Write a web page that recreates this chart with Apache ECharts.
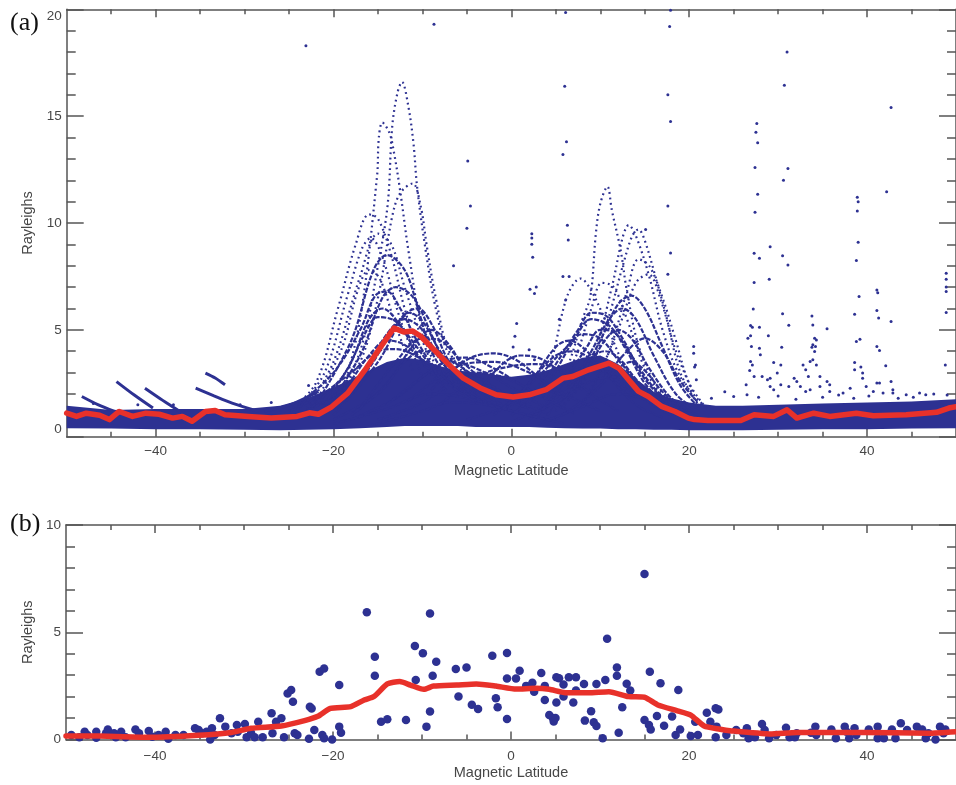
<!DOCTYPE html>
<html>
<head>
<meta charset="utf-8">
<script src="https://cdn.jsdelivr.net/npm/echarts@6.0.0/dist/echarts.min.js"></script>
<style>
  html, body { margin: 0; padding: 0; background: #fff; }
  #chart { width: 956px; height: 785px; }
</style>
</head>
<body>
<div id="chart"></div>
<script>
// colours / fonts
const BLUE = '#2d3192';
const RED = '#e8312a';
const AXIS = '#555555';
const TEXT = '#474747';
const FONT = '"Liberation Sans", Arial, Helvetica, sans-serif';

// x axis ticks
const xMajorTicks = [-40, -20, 0, 20, 40];
const xMinorTicks = [-45, -35, -30, -25, -15, -10, -5, 5, 10, 15, 25, 30, 35, 45];

// (a) dense bottom band of the scatter, lat / upper / lower
const bandLat = [-50, -45, -40, -35, -30, -26, -23, -20, -17, -14, -12, -10, -8, -6, -4, -2, 0, 2, 4, 6, 8, 10, 12, 14, 16, 18, 20, 23, 26, 30, 35, 40, 45, 50];
const bandTop = [1.45, 1.25, 1.3, 1.3, 1.3, 1.45, 1.8, 2.3, 2.9, 3.5, 3.7, 3.6, 3.3, 3.1, 3.0, 2.9, 2.8, 2.9, 3.1, 3.4, 3.7, 3.8, 3.4, 2.7, 2.1, 1.8, 1.6, 1.45, 1.45, 1.5, 1.55, 1.6, 1.65, 1.75];
const bandBottom = [0.4, 0.38, 0.35, 0.35, 0.32, 0.3, 0.32, 0.35, 0.4, 0.45, 0.5, 0.5, 0.5, 0.5, 0.45, 0.45, 0.45, 0.45, 0.42, 0.4, 0.38, 0.38, 0.35, 0.35, 0.33, 0.32, 0.3, 0.3, 0.3, 0.32, 0.35, 0.35, 0.38, 0.4];

// (a) tall passes (sparse, dotted look)
const tallArcs = [
  [[-20,1.5],[-17,4],[-15,8],[-13.9,10.9],[-13.4,14.5],[-12.8,16.1],[-12.3,16.6],[-11.6,15.5],[-11,13.7],[-10.6,11.7],[-9.7,8.9],[-8.5,6],[-7,3.8],[-4,2.2]],
  [[-19,2],[-17,5.5],[-15.1,12.2],[-14.9,14],[-14.5,14.7],[-13.7,14.2],[-13.2,13.3],[-12.5,11.5],[-11.5,8.5],[-10,5],[-8,3],[-5,2]],
  [[-20,1.8],[-17,3.5],[-15,6.5],[-13.4,10.3],[-12.5,11.4],[-11.1,11.85],[-10.2,10.8],[-9.5,8.9],[-8.5,6.5],[-7,4],[-4,2.3]],
  [[-25,1.2],[-22,2.5],[-19.5,6],[-17.5,9],[-16,10.4],[-15,10.2],[-13.5,8.5],[-12,6],[-10,3.5],[-7,2]],
  [[-23,1.3],[-20,3.5],[-17,7.5],[-15,9.5],[-13.5,9],[-12,7],[-10,4.5],[-8,2.5]],
  [[-24,1.3],[-21,3],[-18.5,6.5],[-16.8,8.8],[-15.8,9.3],[-14.5,8.4],[-12.5,5.5],[-10,2.8]],
  [[-22,1.6],[-19,4.2],[-17.3,6.8],[-16,7.8],[-14.8,7.4],[-13,5.2],[-11,3]],
  [[3,1.3],[6,3],[8,5.5],[8.9,6.6],[9.5,9.5],[10,10.9],[10.8,11.7],[11.3,10.6],[12.3,8.7],[13,6.8],[14.5,4],[17,2],[20,1.2]],
  [[5,1.2],[8,2.5],[10.5,5],[12.6,8.1],[13.6,9.4],[14.3,9.7],[14.9,9.3],[16.2,7.5],[17.5,5.5],[19,3],[21,1.5]],
  [[6,1.5],[9,3.5],[11.3,7],[12.5,9.3],[13.2,9.9],[14,9.4],[15.5,7.5],[17,5],[19,2.8],[22,1.3]],
  [[8,1.5],[11,4],[13,6.8],[14.3,8.3],[15.5,8],[17,6.5],[18.5,4.5],[20,2.5],[22,1.3]],
  [[1,1.5],[4,3],[6.3,6.6],[7.8,7.4],[8.9,6.9],[10.5,5.5],[12.5,3.5],[15,2],[18,1.2]],
  [[4,1.4],[7,3.5],[9,6],[10.2,7.2],[11.5,7],[13,5.5],[15,3.2],[17,1.8]],
  [[9,2],[12,5],[14,7.2],[15.4,7.6],[16.8,6.4],[18.5,4],[20.5,2]]
];

// (a) lower passes (dense)
const lowArcs = [
  [[-22,1.5],[-18,4.5],[-15.5,7.8],[-14,8.5],[-12,7.8],[-10.5,6],[-9,4],[-6,2]],
  [[-21,1.2],[-17,3.8],[-14.5,6.5],[-13,7],[-11,6.5],[-9,4.8],[-7,3],[-4,1.8]],
  [[-20,1],[-15,3.5],[-12,5.7],[-10.5,6],[-9,5.3],[-7,3.5],[-4,2]],
  [[-22,1],[-17,2.8],[-14,4.8],[-12,5.5],[-10,5],[-8,3.6],[-5,2.2],[-2,1.5]],
  [[-18,1],[-14,2.5],[-11,4.3],[-9,5],[-7,4.3],[-5,3],[-2,2],[2,1.3]],
  [[-24,1],[-19,2.2],[-16,3.8],[-14,4.5],[-12,4.3],[-9,3.2],[-5,2],[0,1.2]],
  [[-20,0.8],[-15,2],[-12,3.5],[-10,4],[-7,3.6],[-4,2.8],[0,1.8],[4,1.1]],
  [[-18,0.8],[-13,1.8],[-9,3.1],[-7,3.5],[-4,3.2],[0,2.3],[4,1.3]],
  [[-15,0.8],[-10,1.6],[-6,2.7],[-4,3],[-1,2.8],[3,2],[7,1.1]],
  [[-8,1.5],[-4,2.8],[0,3.3],[3,3.4],[6,3],[9,2],[12,1.2]],
  [[-12,1.5],[-6,3.3],[-2,3.5],[2,3],[5,2.2],[10,1.2]],
  [[-5,0.8],[0,1.5],[5,2.5],[8,3.2],[11,3],[14,2],[18,1]],
  [[0,1],[4,2.5],[7,4.5],[9,5.5],[11,5.2],[13,4],[15,2.5],[18,1.2]],
  [[4,1],[8,2.8],[10.5,4.5],[12,5],[13.5,4.6],[15.5,3.2],[18,1.8],[21,1]],
  [[-2,1],[2,2.5],[5,4.2],[6.5,4.5],[8.5,4],[11,2.8],[14,1.5],[17,0.9]],
  [[2,0.8],[6,2.2],[9,3.7],[10.5,4],[12,3.7],[14,2.7],[17,1.4],[20,0.8]],
  [[5,0.8],[9,2],[12,3.2],[13.5,3.5],[15,3.1],[17,2.1],[20,1]],
  [[0,0.7],[5,1.6],[9,2.6],[12,2.8],[15,2.2],[19,1]],
  [[3,0.6],[8,1.4],[12,2],[16,1.6],[20,0.8]],
  [[-20,0.6],[-14,1.3],[-9,2],[-5,1.8],[0,1.2],[5,0.7]],
  [[-16,0.5],[-10,1.2],[-7,1.6],[-3,1.5],[2,1],[6,0.6]],
  [[-23,1.2],[-19,2.8],[-16.5,4.8],[-15,5.6],[-13,5.4],[-11,4.4],[-8,2.8],[-4,1.6]],
  [[-21,1.5],[-18,3.5],[-16,5.5],[-14.5,6],[-12.5,5.2],[-10,3.5],[-7,2.2]],
  [[-19,1.6],[-16,3.2],[-13,5.2],[-11.5,5.8],[-10,5.4],[-8,4],[-5,2.5],[-1,1.5]],
  [[-17,1.3],[-13,3.5],[-10,4.6],[-8,4.5],[-6,3.7],[-3,2.6],[1,1.6]],
  [[-24,1.5],[-20,3],[-17,5],[-15.3,6.6],[-14,6.8],[-12.5,6],[-10.5,4.4],[-8,2.7]],
  [[-14,1.5],[-10,2.8],[-7,3.6],[-5,3.7],[-2,3.2],[2,2.2],[6,1.3]],
  [[-26,1.0],[-22,1.8],[-18,3],[-15,4],[-13,4.1],[-10,3.6],[-6,2.5]],
  [[2,1.6],[5,3.4],[7.5,5],[9,5.8],[10.5,5.7],[12.5,4.6],[15,2.7],[18,1.4]],
  [[6,1.8],[9,4],[11,5.5],[12.5,6],[14,5.5],[16,3.8],[18.5,2],[21,1.2]],
  [[-1,1.3],[3,2.8],[6,4.1],[8,4.8],[10,4.6],[12,3.6],[15,2.2],[18,1.2]],
  [[1,2],[3,3],[5,3.8],[7,4],[9,3.6],[11,2.8],[14,1.8]],
  [[7,2.2],[10,4.5],[12,6.2],[13.5,6.6],[15,6],[17,4.2],[19,2.4],[21,1.4]],
  [[3,1],[6,2.6],[8.5,4.2],[10,5],[11.5,4.9],[13.5,3.8],[16,2.3],[19,1.2]],
  [[10,2.5],[13,4],[15,4.6],[17,4],[19,2.6],[21,1.6]],
  [[-4,2],[-1,3.4],[1,3.8],[3,3.7],[5,3.2],[8,2.2]],
  [[-9,2.2],[-5,3.6],[-2,3.9],[0.5,3.6],[3,2.8],[6,1.8]]
];

// (a) short streaks on the southern side
const streaks = [
  [[-48.3,1.88],[-46.5,1.5],[-44.6,1.18]],
  [[-44.4,2.58],[-42.4,1.95],[-40.3,1.34]],
  [[-41.2,2.27],[-39.2,1.7],[-37.3,1.18],[-36.6,0.95]],
  [[-35.5,2.27],[-33.5,1.92],[-31.4,1.57],[-28.4,1.18]],
  [[-34.4,2.98],[-33.3,2.75],[-32.2,2.43]],
  [[-27.8,1.2],[-24.8,1.5],[-21.7,2.12]]
];

// (a) isolated points
const outliersA = [
  [-23.1,18.3],[-8.7,19.3],[6.1,19.85],[17.9,19.95],[17.8,19.2],[17.6,16.0],[17.9,14.75],[17.6,10.8],[17.9,8.6],[17.6,7.6],
  [31.0,18.0],[30.7,16.45],[27.6,14.66],[27.5,14.25],[27.7,13.75],[27.4,12.6],[27.7,11.34],[27.4,10.5],[31.1,12.55],[30.6,12.0],
  [42.7,15.4],[42.2,11.46],[38.9,11.2],[39.0,11.0],[38.9,10.56],[-4.9,12.9],[-4.6,10.8],[-5.0,9.75],[2.3,9.5],[2.3,9.3],[2.3,9.0],
  [2.4,8.4],[6.3,9.9],[6.4,9.2],[2.1,6.9],[2.6,6.7],[15.1,9.7],[6.0,16.4],[6.2,13.8],[5.8,13.2],[-6.5,8.0],[0.6,5.3],[0.4,4.7],
  [0.2,4.2],[2.0,4.07],[2.6,3.6],[2.8,7.0],[6.5,7.5],[6.1,6.4],[5.4,5.5],[5.8,7.5],[-22.8,2.4],
  [27.3,8.58],[27.9,8.35],[29.1,8.89],[30.5,8.47],[31.1,8.04],[39.0,9.1],[38.8,8.24],[39.1,6.56],[41.1,6.87],[41.2,6.74],[41.1,5.9],
  [41.3,5.55],[42.7,5.39],[27.3,7.21],[27.2,5.98],[29.0,7.37],[30.5,5.75],[31.2,5.22],[28.9,4.72],[26.9,5.2],[27.1,5.12],[27.9,5.12],
  [26.6,4.61],[26.9,4.72],[27.0,4.22],[27.9,4.14],[28.0,3.83],[26.9,3.52],[27.1,3.36],[26.8,3.1],[27.3,2.82],[28.2,2.82],[29.1,2.74],
  [29.5,3.47],[30.3,3.36],[29.9,2.98],[30.4,4.19],[31.8,2.74],[32.1,2.58],[32.8,3.36],[33.1,3.13],[33.4,2.82],[33.8,5.65],[33.9,5.23],
  [34.1,4.61],[34.3,4.53],[33.9,4.3],[34.2,4.22],[33.8,4.19],[34.1,3.99],[33.9,3.6],[33.6,3.52],[34.3,3.36],[34.7,2.82],[35.5,5.05],
  [35.5,2.58],[35.8,2.43],[38.6,5.73],[38.8,4.45],[39.2,4.56],[38.6,3.47],[38.6,3.13],[39.3,3.26],[39.5,2.98],[39.5,2.74],[41.1,4.22],
  [41.4,4.03],[42.1,3.32],[41.1,2.51],[41.4,2.51],[42.7,2.58],[42.9,2.2],[45.9,2.04],[48.8,3.36],[48.9,7.65],[48.9,7.37],[48.9,7.0],
  [48.9,6.79],[48.9,5.81],[20.5,4.22],[20.5,3.91],[20.7,3.36],[20.6,3.26],[20.8,2.66],[25.0,1.88],[26.4,2.43],[26.5,1.96],[28.8,2.66],
  [29.1,2.35],[29.5,2.2],[30.3,2.43],[31.2,2.35],[32.5,2.35],[33.1,2.12],[33.6,2.2],[34.7,2.35],[35.8,2.12],[37.3,2.04],[38.1,2.27],
  [39.9,2.35],[40.7,2.12],[41.8,2.04],[42.9,2.04],[44.4,1.96],[46.6,1.96],
  [22.5,1.8],[24.0,2.1],[27.8,1.85],[30.0,1.9],[32.0,1.75],[35.0,1.85],[36.8,1.95],[38.5,1.8],[40.2,1.9],[43.5,1.8],[45.2,1.85],
  [47.5,2.0],[49.0,1.95],[-47.0,1.55],[-42.0,1.5],[-38.0,1.5],[-30.5,1.5],[-27.0,1.6]
];

// (a) mean curve
const meanA = [
  [-50,1.1],[-48.9,0.95],[-47.8,1.1],[-46.3,1.0],[-45.2,0.8],[-44.1,1.18],[-42.6,0.95],[-41.1,1.1],[-39.6,1.05],[-38.1,0.87],
  [-37,0.95],[-35.9,0.72],[-34.4,1.18],[-33.3,1.23],[-32.2,1.03],[-29.6,0.95],[-27,0.87],[-24.1,0.95],[-22.7,1.12],[-21.7,1.05],
  [-20.2,1.4],[-18.4,2.04],[-16.5,3.1],[-14.7,4.2],[-13.2,5.08],[-12.1,4.9],[-11.1,4.95],[-10.2,4.7],[-8.7,4.07],[-7.2,3.44],
  [-5.4,2.74],[-3.5,2.28],[-1.7,1.96],[0.2,1.86],[2,1.96],[3.9,2.2],[5.8,2.74],[6.9,2.82],[8.7,3.13],[11,3.44],[12.1,3.2],
  [13.2,2.66],[14.3,2.12],[15.4,1.88],[16.9,1.42],[18.4,1.18],[19.9,0.87],[20.6,0.8],[22.1,0.76],[25.8,0.76],[27.3,1.03],
  [29.5,0.95],[31,1.26],[32.1,0.87],[34,1.1],[35.8,0.95],[38.8,1.1],[40.7,0.98],[44.4,1.03],[47.8,1.14],[49.2,1.34],[50,1.4]
];

// (b) points
const scatterB = [
  [-49.4,0.21],[-48.5,0.1],[-47.9,0.36],[-47.6,0.21],[-46.6,0.36],[-46.6,0.08],[-45.5,0.29],[-45.3,0.47],[-44.6,0.29],[-44.4,0.1],
  [-43.8,0.36],[-43.3,0.1],[-42.2,0.47],[-41.8,0.29],[-40.7,0.4],[-40.3,0.13],[-39.6,0.21],[-38.8,0.36],[-38.5,0.03],[-37.7,0.21],
  [-36.8,0.21],[-35.5,0.52],[-35.1,0.44],[-34.7,0.29],[-34.2,0.36],[-33.8,0.0],[-33.6,0.52],[-33.3,0.21],[-32.7,0.99],[-32.1,0.6],
  [-31.4,0.29],[-30.8,0.68],[-30.7,0.36],[-29.9,0.72],[-29.7,0.1],[-29.2,0.29],[-28.8,0.1],[-28.4,0.83],[-27.9,0.1],[-26.9,1.22],
  [-26.8,0.29],[-26.4,0.83],[-25.8,0.99],[-25.5,0.1],[-25.1,2.15],[-24.7,2.31],[-24.5,1.76],[-24.3,0.29],[-24.0,0.21],[-22.7,0.03],
  [-22.6,1.53],[-22.4,1.45],[-22.1,0.44],
  [-21.5,3.16],[-21.0,3.31],[-19.3,2.54],[-19.3,0.6],[-19.1,0.32],[-21.2,0.21],[-21.0,0.06],[-20.1,0.0],[-16.2,5.93],[-15.3,3.86],
  [-15.3,2.97],[-14.6,0.83],[-13.9,0.94],[-11.8,0.91],[-10.8,4.36],[-10.7,2.77],[-9.9,4.02],[-9.1,5.87],[-9.1,1.3],[-9.5,0.6],
  [-8.8,2.97],[-8.4,3.63],[-6.2,3.29],[-5.9,2.0],[-5.0,3.36],[-4.4,1.62],[-3.7,1.42],[-2.1,3.91],[-1.7,1.92],[-1.5,1.5],
  [-0.45,4.03],[-0.45,2.84],[-0.45,0.96],[0.56,2.84],[0.97,3.2],[1.7,2.5],[2.4,2.65],[2.6,2.23],[3.4,3.1],[3.8,2.5],[3.8,1.84],
  [4.3,1.14],[4.7,1.0],[4.8,0.84],[5.0,1.0],[5.1,2.9],[5.4,2.86],[5.1,1.72],[5.9,2.56],[5.9,2.0],[6.5,2.9],[7.3,2.9],[7.0,1.72],
  [7.3,2.28],[8.2,2.59],[8.3,0.88],[9.0,1.32],[9.3,0.8],[9.6,0.63],[9.6,2.59],[10.3,0.06],[10.6,2.77],[10.8,4.7],[11.9,3.36],
  [11.9,2.97],[12.1,0.32],[12.5,1.5],[13.0,2.6],[13.4,2.28],
  [15.0,7.72],[15.6,3.16],[16.8,2.62],[18.8,2.31],[15.0,0.91],[15.5,0.68],[15.7,0.47],[16.4,1.09],[17.2,0.64],[18.1,1.07],[18.5,0.21],
  [19.0,0.47],[20.2,0.16],[21.0,0.21],[20.7,0.83],[22.0,1.25],[22.4,0.83],[23.0,1.46],[23.3,1.4],[23.0,0.1],[23.1,0.6],[24.2,0.21],
  [25.3,0.44],[26.1,0.29],[26.5,0.52],[26.7,0.06],[27.4,0.1],[28.2,0.72],[28.5,0.44],[29.0,0.06],[29.8,0.21],[30.9,0.55],[31.3,0.1],
  [31.9,0.1],[32.1,0.29],[33.7,0.32],[34.2,0.6],[34.3,0.21],[36.0,0.47],[36.5,0.06],[37.5,0.6],[37.7,0.36],[38.0,0.06],[38.6,0.52],
  [38.8,0.21],[40.2,0.47],[41.2,0.6],[41.2,0.06],[41.9,0.06],[42.8,0.47],[43.2,0.06],[43.8,0.76],[44.5,0.44],[45.6,0.6],[46.2,0.47],
  [46.6,0.06],[46.9,0.29],[47.7,0.0],[48.2,0.6],[48.6,0.29],[48.8,0.47]
];

// (b) mean curve
const meanB = [
  [-50,0.16],[-46.3,0.16],[-40.7,0.1],[-35.1,0.2],[-31.4,0.33],[-29.2,0.52],[-25.8,0.63],[-23.2,0.88],[-21.7,1.08],[-20.3,1.45],
  [-18,1.53],[-16.5,1.84],[-15.4,2.0],[-13.9,2.59],[-12.5,2.7],[-11.3,2.54],[-9.8,2.34],[-8.7,2.49],[-6.1,2.54],[-3.9,2.59],
  [-1.7,2.49],[0.6,2.35],[2.8,2.39],[4.3,2.34],[6.1,2.18],[8.7,2.18],[11,2.23],[13.2,2.0],[15,1.97],[16.5,1.61],[18.7,1.34],
  [20.2,1.14],[21.7,0.63],[23.5,0.48],[24.6,0.41],[29.1,0.26],[32.1,0.33],[39.5,0.33],[46.9,0.29],[50,0.36]
];

const minus = v => String(v).replace('-', '\u2212');

// 横轴：主刻度 / 次刻度分两条叠加
function latAxis(grid, pos, major, labelMargin, nameGap) {
  const withLabel = major && pos === 'bottom';
  return {
    type: 'value', gridIndex: grid, position: pos, min: -50, max: 50,
    axisLine: { show: major, onZero: false, lineStyle: { color: AXIS, width: 1.5 } },
    axisTick: {
      show: true, inside: true, length: major ? 8 : 5,
      customValues: major ? xMajorTicks : xMinorTicks,
      lineStyle: { color: AXIS, width: 1.5 }
    },
    axisLabel: {
      show: withLabel, customValues: xMajorTicks, margin: labelMargin,
      color: TEXT, fontFamily: FONT, fontSize: 13.5, formatter: minus
    },
    splitLine: { show: false },
    name: withLabel ? 'Magnetic Latitude' : '',
    nameLocation: 'middle', nameGap: nameGap,
    nameTextStyle: { color: TEXT, fontFamily: FONT, fontSize: 14.5 }
  };
}

// 纵轴
function rayAxis(grid, pos, max, shiftEnds) {
  const left = pos === 'left';
  const label = { show: left, margin: 5, color: TEXT, fontFamily: FONT, fontSize: 13.5 };
  if (shiftEnds) {
    label.verticalAlignMaxLabel = 'top';
    label.verticalAlignMinLabel = 'bottom';
  }
  return {
    type: 'value', gridIndex: grid, position: pos, min: 0, max: max, interval: 5,
    axisLine: { show: true, onZero: false, lineStyle: { color: AXIS, width: 1.5 } },
    axisTick: { show: true, inside: true, length: 17, lineStyle: { color: AXIS, width: 1.5 } },
    minorTick: { show: true, splitNumber: 5, length: 9, lineStyle: { color: AXIS, width: 1.5 } },
    axisLabel: label,
    splitLine: { show: false },
    name: left ? 'Rayleighs' : '',
    nameLocation: 'middle', nameGap: 31, nameRotate: 90,
    nameTextStyle: { color: TEXT, fontFamily: FONT, fontSize: 14.5 }
  };
}

const upperA = bandLat.map((x, i) => [x, bandTop[i]]);
const lowerA = bandLat.map((x, i) => [x, bandBottom[i]]);

const series = [];
//底部密集带
series.push({
  type: 'custom', xAxisIndex: 0, yAxisIndex: 0, silent: true, z: 2,
  data: [[0, 0]],
  renderItem: (params, api) => {
    const pts = upperA.map(p => api.coord(p)).concat(lowerA.slice().reverse().map(p => api.coord(p)));
    return { type: 'polygon', shape: { points: pts }, style: { fill: BLUE } };
  }
});
lowArcs.forEach(a => series.push({
  type: 'line', xAxisIndex: 0, yAxisIndex: 0, data: a, symbol: 'none', smooth: 0.35, silent: true, z: 3,
  lineStyle: { color: BLUE, width: 2.2, type: [5, 1.5] }
}));
tallArcs.forEach(a => series.push({
  type: 'line', xAxisIndex: 0, yAxisIndex: 0, data: a, symbol: 'none', smooth: 0.35, silent: true, z: 3,
  lineStyle: { color: BLUE, width: 2.2, type: [1.8, 3.5] }
}));
streaks.forEach(a => series.push({
  type: 'line', xAxisIndex: 0, yAxisIndex: 0, data: a, symbol: 'none', smooth: 0.3, silent: true, z: 3,
  lineStyle: { color: BLUE, width: 3 }
}));
series.push({
  type: 'scatter', xAxisIndex: 0, yAxisIndex: 0, data: outliersA, symbolSize: 3, silent: true, z: 4,
  itemStyle: { color: BLUE, opacity: 1 }
});
series.push({
  type: 'line', xAxisIndex: 0, yAxisIndex: 0, data: meanA, symbol: 'none', silent: true, z: 6,
  lineStyle: { color: RED, width: 5.5, join: 'round', cap: 'round' }
});
// (b)
series.push({
  type: 'scatter', xAxisIndex: 4, yAxisIndex: 2, data: scatterB, symbolSize: 8.5, silent: true, z: 4,
  itemStyle: { color: BLUE, opacity: 1 }
});
series.push({
  type: 'line', xAxisIndex: 4, yAxisIndex: 2, data: meanB, symbol: 'none', smooth: 0.2, silent: true, z: 6,
  lineStyle: { color: RED, width: 5.5, join: 'round', cap: 'round' }
});

const chart = echarts.init(document.getElementById('chart'), null, { renderer: 'canvas' });
chart.setOption({
  animation: false,
  backgroundColor: '#fff',
  grid: [
    { left: 66.7, top: 9.3, right: -7.5, height: 427.4 },
    { left: 66, top: 525, right: -7.5, height: 214.5 }
  ],
  xAxis: [
    latAxis(0, 'bottom', true, 8, 24), latAxis(0, 'bottom', false, 8, 24),
    latAxis(0, 'top', true, 8, 24), latAxis(0, 'top', false, 8, 24),
    latAxis(1, 'bottom', true, 10, 26), latAxis(1, 'bottom', false, 10, 26),
    latAxis(1, 'top', true, 10, 26), latAxis(1, 'top', false, 10, 26)
  ],
  yAxis: [rayAxis(0, 'left', 20, true), rayAxis(0, 'right', 20, true), rayAxis(1, 'left', 10, false), rayAxis(1, 'right', 10, false)],
  graphic: [
    { type: 'text', left: 10, top: 10, style: { text: '(a)', font: '26px "Liberation Serif", "Times New Roman", serif', fill: '#111' } },
    { type: 'text', left: 10, top: 511, style: { text: '(b)', font: '26px "Liberation Serif", "Times New Roman", serif', fill: '#111' } }
  ],
  series: series
});
</script>
</body>
</html>
